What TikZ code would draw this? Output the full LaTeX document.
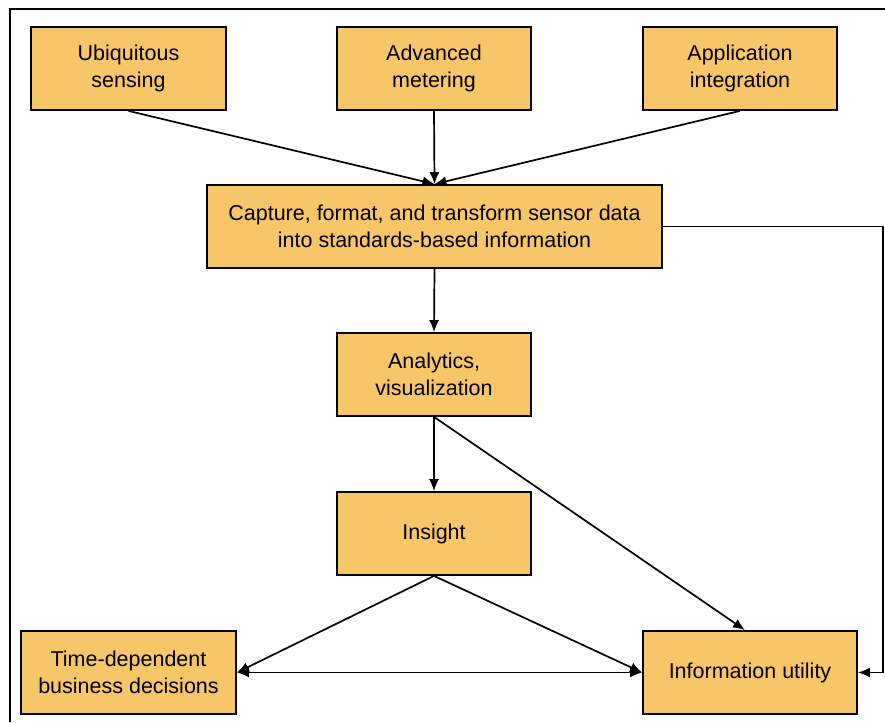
\documentclass[tikz,border=0pt]{standalone}
\usepackage{fontspec}
\setmainfont{Liberation Sans}
\usetikzlibrary{arrows.meta}
\definecolor{boxfill}{RGB}{246,198,104}
\tikzset{
  box/.style={draw=black, line width=1.8pt, fill=boxfill, inner sep=0pt, align=center,
    font=\fontsize{21.5}{27}\selectfont},
  conn/.style={line width=1.7pt, -{Latex[length=12pt,width=10pt]}},
  both/.style={line width=1.7pt, {Latex[length=12pt,width=10pt]}-{Latex[length=12pt,width=10pt]}}
}
\begin{document}
\begin{tikzpicture}[x=1pt,y=-1pt]
\useasboundingbox (0,0) rectangle (885,722);
\fill[white] (0,0) rectangle (885,722);
\draw[line width=2.2pt] (10,722) -- (10,9) -- (885,9);
\node[box, minimum width=195pt, minimum height=83pt] (ubi) at (128.5,68.5) {Ubiquitous\\sensing};
\node[box, minimum width=194pt, minimum height=83pt] (adv) at (434,68.5) {Advanced\\metering};
\node[box, minimum width=194pt, minimum height=83pt] (app) at (740,68.5) {Application\\integration};
\node[box, minimum width=455pt, minimum height=83pt] (cap) at (434.5,226.5) {Capture, format, and transform sensor data\\into standards-based information};
\node[box, minimum width=194pt, minimum height=83pt] (ana) at (434,374.5) {Analytics,\\visualization};
\node[box, minimum width=194pt, minimum height=83pt] (ins) at (434,533.5) {Insight};
\node[box, minimum width=215pt, minimum height=83pt] (tdb) at (128.5,672.5) {Time-dependent\\business decisions};
\node[box, minimum width=214pt, minimum height=83pt] (inf) at (750,672.5) {Information utility};
\coordinate (fb1) at (883,226.5);
\coordinate (fb2) at (883,672.5);
\draw[conn] (ubi.south) -- (cap.north);
\draw[conn] (adv.south) -- (cap.north);
\draw[conn] (app.south) -- (cap.north);
\draw[conn] (cap.east) -- (fb1) -- (fb2) -- (inf.east);
\draw[conn] (cap.south) -- (ana.north);
\draw[conn] (ana.south) -- (ins.north);
\draw[conn] (ana.south) -- ([xshift=-5pt]inf.north);
\draw[conn] (ins.south) -- (tdb.east);
\draw[conn] (ins.south) -- (inf.west);
\draw[both] (tdb.east) -- (inf.west);
\end{tikzpicture}
\end{document}
